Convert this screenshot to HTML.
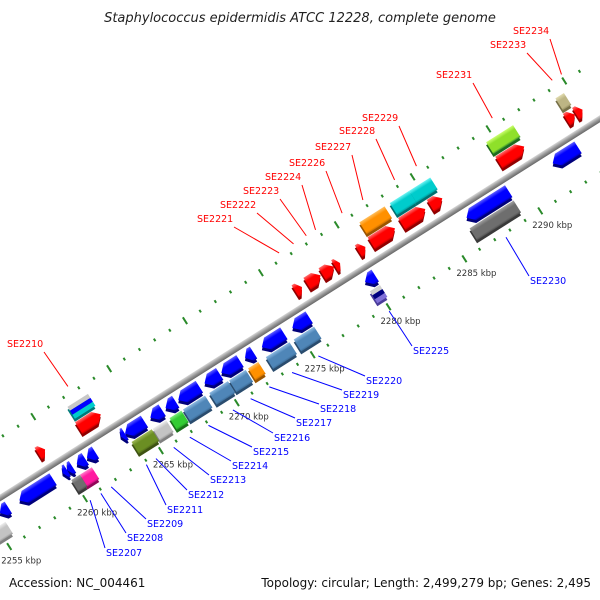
<!DOCTYPE html>
<html><head><meta charset="utf-8">
<style>
html,body{margin:0;padding:0;background:#fff;}
svg{display:block;font-family:"DejaVu Sans","Liberation Sans",sans-serif;}
</style></head>
<body>
<svg id="chart" width="600" height="600" viewBox="0 0 600 600">
<defs>
 <linearGradient id="bb" x1="0" y1="0" x2="0" y2="1"><stop offset="0" stop-color="#d8d8d8"/><stop offset="0.5" stop-color="#999"/><stop offset="1" stop-color="#666"/></linearGradient>
</defs>
<text x="300" y="22" text-anchor="middle" font-size="13" font-style="italic" fill="#222">Staphylococcus epidermidis ATCC 12228, complete genome</text>
<text x="9" y="587" font-size="12" fill="#111">Accession: NC_004461</text>
<text x="591" y="587" text-anchor="end" font-size="12" fill="#111">Topology: circular; Length: 2,499,279 bp; Genes: 2,495</text>
<g id="rotS" transform="translate(0,501) rotate(-32.3)"></g>
<g id="rot" transform="translate(0,498) rotate(-32.3)"></g>
<g id="overlay"></g>
</svg>
<script>
// ---- data ----
const geneStart = [2255.56,2254.34,2256.85,2259.70,2260.00,2260.63,2261.30,2259.90,2260.47,2263.53,2263.81,2263.87,2265.48,2265.26,2266.48,2266.37,2267.32,2267.26,2269.05,2268.99,2270.16,2270.30,2271.72,2271.55,2272.83,2272.72,2274.84,2274.56,2279.63,2279.58,2286.32,2286.15,2292.00,
 2259.13,2261.80,2261.90,2276.07,2276.85,2277.85,2278.68,2280.24,2281.08,2281.14,2283.09,2283.14,2284.42,2284.98,2289.49,2289.49,2294.06,2293.95,2294.56];
const geneEnd = [2256.12,2255.56,2259.07,2260.00,2260.35,2261.19,2261.86,2260.47,2261.25,2263.81,2265.09,2265.20,2266.26,2266.15,2267.15,2267.15,2268.71,2268.71,2270.05,2270.22,2271.39,2271.39,2272.28,2272.22,2274.28,2274.28,2275.95,2275.90,2280.30,2280.24,2289.10,2289.05,2293.67,
 2259.58,2263.25,2263.25,2276.51,2277.74,2278.63,2279.02,2280.69,2282.64,2282.80,2284.64,2284.42,2285.81,2285.76,2291.16,2291.27,2294.62,2294.50,2295.00];
const geneStrand = [-1,-1,-1,-1,-1,-1,-1,-1,-1,-1,-1,-1,-1,-1,-1,-1,-1,-1,-1,-1,-1,-1,-1,-1,-1,-1,-1,-1,-1,-1,-1,-1,-1,
 1,1,1,1,1,1,1,1,1,1,1,1,1,1,1,1,1,1,1];
const geneRow = [1,2,1,1,1,1,1,2,2,1,1,2,1,2,1,2,1,2,1,2,1,2,1,2,1,2,1,2,1,2,1,2,1,
 1,1,2,1,1,1,1,1,1,2,1,2,2,1,1,2,2,1,1];
const geneColor = ["blue","gray","blue","blue","blue","blue","blue","dgray","magenta","blue","blue","olive","blue","gray","blue","green","blue","steel","blue","steel","blue","steel","blue","orange","blue","steel","blue","steel","blue","stackB","blue","dgray","blue",
 "red","red","stackA","red","red","red","red","red","red","orange","red","cyan","cyan","red","red","lgreen","khaki","red","red"];
const tickStart = 2251, tickEnd = 2296;
const majorLabels = [2255,2260,2265,2270,2275,2280,2285,2290];
const labelNames = ["SE2207","SE2208","SE2209","SE2211","SE2212","SE2213","SE2214","SE2215","SE2216","SE2217","SE2218","SE2219","SE2220","SE2225","SE2230",
 "SE2210","SE2221","SE2222","SE2223","SE2224","SE2226","SE2227","SE2228","SE2229","SE2231","SE2233","SE2234"];
const labelAnchor = [2260.19,2260.9,2261.58,2263.9,2264.53,2265.7,2266.76,2267.99,2269.6,2270.77,2272.0,2273.5,2275.23,2279.9,2287.6,
 2262.53,2276.45,2277.4,2278.24,2278.85,2280.6,2281.97,2284.06,2285.5,2290.5,2294.45,2295.06];
const labelStrand = [-1,-1,-1,-1,-1,-1,-1,-1,-1,-1,-1,-1,-1,-1,-1, 1,1,1,1,1,1,1,1,1,1,1,1];
const labelTextX = [106,127,147,167,188,210,232,253,274,296,320,343,366,413,530, 7,197,220,243,265,289,315,339,362,436,490,513];
const labelTextY = [556,541,527,513,498,483,469,455,441,426,412,398,384,354,284, 347,222,208,194,180,166,150,134,121,78,48,34];

// ---- axes ----
const ANG = 32.3*Math.PI/180, C = Math.cos(ANG), S = Math.sin(ANG), OX = 0, OY = 498;
function uOf(kbp){ return 71.6 + (kbp-2260)*17.95; }
function toXY(u,v){ return [OX + u*C + v*S, OY - u*S + v*C]; }
const ROWV = {"1":{"-1":12.5,"1":-17},"2":{"-1":30,"1":-34}};
const H = 14;
const PAL = {red:["#ff7070","#ff0000","#c00000"],blue:["#6060ff","#0000ff","#0000b0"],gray:["#eeeeee","#c4c4c4","#999"],dgray:["#a0a0a0","#6e6e6e","#505050"],magenta:["#ff80cc","#ff1aa0","#c0107a"],olive:["#a0b858","#6b8e23","#506a1a"],green:["#80ee80","#33cc33","#229922"],steel:["#90bce4","#4f86b8","#3a6a96"],orange:["#ffc060","#ff9000","#c86e00"],cyan:["#70f4f4","#00cccc","#009c9c"],khaki:["#e2dcb0","#bdb584","#958e60"],lgreen:["#ccff70","#8fe02a","#2e8b2e"]};
const DARK = {red:"#900000",blue:"#00007a",gray:"#808080",dgray:"#3a3a3a",magenta:"#900858",olive:"#3e5212",green:"#187018",steel:"#2a4c6e",orange:"#9a5400",cyan:"#007070",khaki:"#777048",lgreen:"#1e6a1e",stackA:"#007a7a",stackB:"#4a3c9a"};
const STACK = {stackA:["#c8c8c8","#0000ff","#00cccc"],stackB:["#d0d0d0","#000080","#8070d8"]};
const NS="http://www.w3.org/2000/svg";
function mk(tag,attrs,parent){const e=document.createElementNS(NS,tag);for(const k in attrs)e.setAttribute(k,attrs[k]);parent.appendChild(e);return e;}
const rot=document.getElementById('rot'), rotS=document.getElementById('rotS'), ov=document.getElementById('overlay'), defs=document.querySelector('defs');
Object.keys(PAL).forEach(k=>{
  const g=mk('linearGradient',{id:'g_'+k,x1:0,y1:0,x2:0,y2:1},defs);
  mk('stop',{offset:0,'stop-color':PAL[k][0]},g);mk('stop',{offset:0.3,'stop-color':PAL[k][1]},g);mk('stop',{offset:0.85,'stop-color':PAL[k][1]},g);mk('stop',{offset:1,'stop-color':PAL[k][2]},g);
});

// ticks rows
for(let k=tickStart;k<=tickEnd;k++){
  const major = k%5===0;
  [-51,46].forEach(v=>{
    const u=uOf(k), len=major?4:1.5;
    const t=mk('line',{x1:u,y1:v-len,x2:u,y2:v+len,stroke:'#2a8a2a','stroke-width':2},rot);
    
    
  });
}
// backbone
const bb=mk('rect',{x:-60,y:-3,width:900,height:6,fill:'url(#bb)'},rot);



// genes
for(let i=0;i<geneStart.length;i++){
  const u0=uOf(geneStart[i]), u1=uOf(geneEnd[i]), st=geneStrand[i], vc=ROWV[geneRow[i]][st];
  const top=vc-H/2, bot=vc+H/2, len=u1-u0, hl=Math.min(7,len*0.6);
  let pts;
  const col=geneColor[i];
  if(STACK[col] || geneRow[i]===2 && col!=="red"){
    pts=[[u0,top],[u1,top],[u1,bot],[u0,bot]];
  } else if(st===1){
    pts=[[u0,top],[u1-hl,top],[u1,vc],[u1-hl,bot],[u0,bot]];
  } else {
    pts=[[u1,top],[u0+hl,top],[u0,vc],[u0+hl,bot],[u1,bot]];
  }
  const ptStr=pts.map(p=>p.join(',')).join(' ');
  const sh=mk('polygon',{points:ptStr,fill:DARK[col]},rotS);
  
  
  const g=mk('g',{},rot);
  
  
  if(STACK[col]){
    const cs=STACK[col];
    for(let j=0;j<3;j++){ mk('rect',{x:u0,y:top+j*H/3,width:len,height:H/3,fill:cs[j]},g); }
  } else {
    mk('polygon',{points:ptStr,fill:'url(#g_'+col+')'},g);
  }
}

// major tick labels
majorLabels.forEach(k=>{
  const [x,y]=toXY(uOf(k),46);
  const t=mk('text',{x:x+12,y:y+17,'text-anchor':'middle','font-size':8.5,fill:'#333'},ov);
  t.textContent=k+' kbp';
  
  
});

// gene labels with leader lines
for(let i=0;i<labelNames.length;i++){
  const st=labelStrand[i], tx=labelTextX[i], ty=labelTextY[i];
  const [ax,ay]=toXY(uOf(labelAnchor[i]), st===1?-58:50);
  const col= st===1?'#ff0000':'#0000ff';
  let lx,ly;
  if(st===1){lx=tx+37;ly=ty+5;} else {lx=tx-1;ly=ty-8;}
  const ln=mk('line',{x1:ax,y1:ay,x2:lx,y2:ly,stroke:col,'stroke-width':1},ov);
  
  
  const t=mk('text',{x:tx,y:ty,'font-size':9.5,fill:col},ov);
  t.textContent=labelNames[i];
  
  
}
</script>
</body></html>
